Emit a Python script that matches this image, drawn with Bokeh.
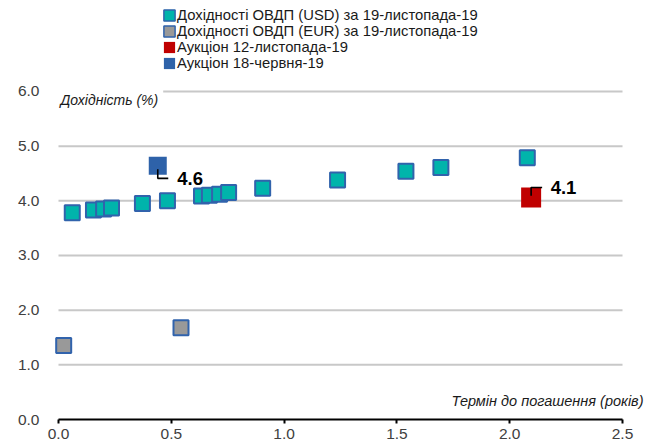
from bokeh.plotting import figure
from bokeh.models import (Range1d, Label, Legend, LegendItem, FixedTicker,
                          NumeralTickFormatter)
from bokeh.embed import file_html
from bokeh.resources import INLINE

# ---- data ----
usd_term = [0.061, 0.155, 0.200, 0.235, 0.372, 0.483, 0.634, 0.669, 0.714, 0.754,
            0.905, 1.237, 1.540, 1.695, 2.078]
usd_yield = [3.78, 3.83, 3.85, 3.87, 3.95, 4.00, 4.09, 4.10, 4.12, 4.15,
             4.23, 4.38, 4.54, 4.61, 4.79]
eur_term = [0.023, 0.543]
eur_yield = [1.355, 1.68]
auc_nov_term = [2.095]
auc_nov_yield = [4.06]
auc_jun_term = [0.44]
auc_jun_yield = [4.64]

legend_labels = ["Дохідності ОВДП (USD) за 19-листопада-19",
                 "Дохідності ОВДП (EUR) за 19-листопада-19",
                 "Аукціон 12-листопада-19",
                 "Аукціон 18-червня-19"]
x_ticks = [0.0, 0.5, 1.0, 1.5, 2.0, 2.5]
y_ticks = [0, 1, 2, 3, 4, 5, 6]
grid_y = [1, 2, 3, 4, 5, 6]
y_title = "Дохідність (%)"
x_title = "Термін до погашення (років)"

# ---- style / layout ----
TEAL = "#00B4AB"
EDGE = "#3163AC"
GREY = "#999999"
RED = "#C00000"
BLUE = "#2E62A9"
FONT = "Liberation Sans"

W, H = 656, 441
LEFT = 50
BOTTOM = 22
PX = 225.6            # pixels per year
PY = 54.67            # pixels per percentage point
FRAME_H = H - BOTTOM
X0 = -8 / PX
X1 = X0 + (W - LEFT) / PX
Y1 = FRAME_H / PY

p = figure(width=W, height=H, output_backend="svg", toolbar_location=None,
           x_range=Range1d(X0, X1), y_range=Range1d(0, Y1),
           min_border_left=LEFT, min_border_right=0, min_border_top=0,
           min_border_bottom=BOTTOM, outline_line_color=None)
p.background_fill_color = "white"
p.border_fill_color = "white"

# axes
xa = p.xaxis[0]
xa.ticker = FixedTicker(ticks=x_ticks)
xa.formatter = NumeralTickFormatter(format="0.0")
xa.bounds = (0, 2.5)
xa.axis_line_color = "black"
xa.axis_line_width = 2
xa.major_tick_line_color = "black"
xa.major_tick_line_width = 2
xa.major_tick_in = 0
xa.major_tick_out = 4
xa.minor_tick_line_color = None
xa.major_label_standoff = 5
xa.major_label_text_font = FONT
xa.major_label_text_font_size = "15.5px"
xa.major_label_text_color = "#404040"

ya = p.yaxis[0]
ya.ticker = FixedTicker(ticks=y_ticks)
ya.formatter = NumeralTickFormatter(format="0.0")
ya.axis_line_color = None
ya.major_tick_line_color = None
ya.minor_tick_line_color = None
ya.major_label_standoff = 5
ya.major_label_text_font = FONT
ya.major_label_text_font_size = "15.5px"
ya.major_label_text_color = "#404040"

p.xgrid.grid_line_color = None
p.ygrid.grid_line_color = None

# horizontal gridlines across the 0-2.5 span
p.segment(x0=[x_ticks[0]] * len(grid_y), x1=[x_ticks[-1]] * len(grid_y),
          y0=grid_y, y1=grid_y, line_color="#C8C8C8", line_width=2)

# data marks
p.scatter(usd_term, usd_yield, marker="square", size=15, fill_color=TEAL,
          line_color=EDGE, line_width=2)
p.scatter(eur_term, eur_yield, marker="square", size=15, fill_color=GREY,
          line_color=EDGE, line_width=2)
p.scatter(auc_nov_term, auc_nov_yield, marker="square", size=20,
          fill_color=RED, line_color=None)
p.scatter(auc_jun_term, auc_jun_yield, marker="square", size=18,
          fill_color=BLUE, line_color=None)

# leader lines for the data labels (pixel offsets converted to data units)
jx, jy = auc_jun_term[0], auc_jun_yield[0]
nx, ny = auc_nov_term[0], auc_nov_yield[0]
p.multi_line(
    xs=[[jx, jx, jx + 10.5 / PX], [nx, nx, nx + 11 / PX]],
    ys=[[jy - 3.5 / PY, jy - 12.5 / PY, jy - 12.5 / PY],
        [ny + 1.7 / PY, ny + 10 / PY, ny + 10 / PY]],
    line_color="black", line_width=1.6)

p.add_layout(Label(x=jx, y=jy, x_offset=19.5, y_offset=-12.5, text=f"{jy:.1f}",
                   text_font=FONT, text_font_size="18.5px", text_font_style="bold",
                   text_baseline="middle", text_align="left", text_color="black"))
p.add_layout(Label(x=nx, y=ny, x_offset=19.5, y_offset=10, text=f"{ny:.1f}",
                   text_font=FONT, text_font_size="18.5px", text_font_style="bold",
                   text_baseline="middle", text_align="left", text_color="black"))

# axis titles
p.add_layout(Label(x=0, y=6, x_offset=-3, y_offset=4, text=y_title,
                   text_font=FONT, text_font_size="14px", text_font_style="italic",
                   text_baseline="top", text_align="left", text_color="#1a1a1a",
                   background_fill_color="white", padding=5))
p.add_layout(Label(x=2.5, y=0, x_offset=21, y_offset=19, text=x_title,
                   text_font=FONT, text_font_size="14.5px", text_font_style="italic",
                   text_baseline="alphabetic", text_align="right", text_color="#1a1a1a"))

# legend: hidden area renderers (anchored on each series' first value) give
# compact square swatches
series_first = [(usd_term[0], usd_yield[0]), (eur_term[0], eur_yield[0]),
                (auc_nov_term[0], auc_nov_yield[0]), (auc_jun_term[0], auc_jun_yield[0])]
swatches = [(TEAL, EDGE), (GREY, EDGE), (RED, None), (BLUE, None)]
items = []
for lab, (fx, fy), (fc, lc) in zip(legend_labels, series_first, swatches):
    r = p.quad(left=[fx], right=[fx], bottom=[fy], top=[fy], fill_color=fc,
               line_color=lc, line_width=1.5, visible=False)
    items.append(LegendItem(label=lab, renderers=[r]))

legend = Legend(items=items, location=(112, 348), orientation="vertical",
                border_line_color=None, background_fill_alpha=0, padding=0,
                margin=0, spacing=0, glyph_width=14, glyph_height=14,
                label_standoff=1, label_height=16, label_text_font=FONT,
                label_text_font_size="14.8px", label_text_color="#1a1a1a",
                label_text_baseline="middle")
p.add_layout(legend)

open("out.html", "w").write(file_html(p, INLINE))
